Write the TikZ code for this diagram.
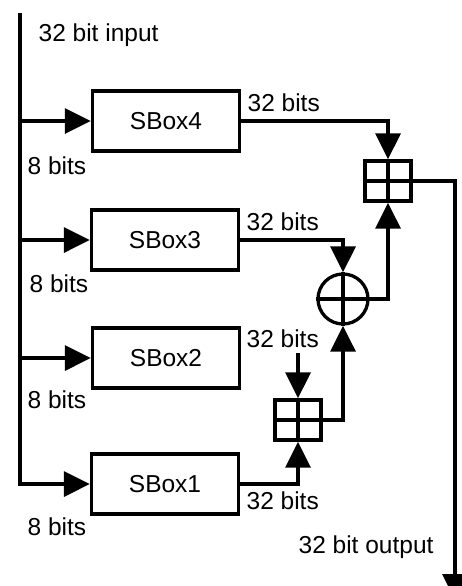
\documentclass[tikz,border=0pt]{standalone}
\usepackage{fontspec}
\setmainfont{Liberation Sans}
\usetikzlibrary{arrows.meta}
\begin{document}
\begin{tikzpicture}[x=1pt,y=-1pt,
  line width=3.3pt,
  sbox/.style={draw, minimum width=147pt, minimum height=60pt, inner sep=0pt, font=\fontsize{24.5}{28}\selectfont},
  lbl/.style={anchor=west, inner sep=0pt, font=\fontsize{24.5}{28}\selectfont},
  addbox/.style={draw, minimum width=46pt, minimum height=40pt, inner sep=0pt},
  xorc/.style={draw, circle, minimum size=50pt, inner sep=0pt},
  arr/.style={-{Triangle[length=26pt,width=25pt]}},
]
\useasboundingbox (0,0) rectangle (462,586);
% boxes
\node[sbox] (s4) at (166,121) {SBox4};
\node[sbox] (s3) at (165,240) {SBox3};
\node[sbox] (s2) at (166,358) {SBox2};
\node[sbox] (s1) at (165,484) {SBox1};
% adders
\node[addbox] (a1) at (388,181) {};
\node[xorc] (xr) at (343,299) {};
\node[addbox] (a2) at (298,420) {};
\draw (a1.north) -- (a1.south) (a1.west) -- (a1.east);
\draw (a2.north) -- (a2.south) (a2.west) -- (a2.east);
\draw (xr.north) -- (xr.south) (xr.west) -- (xr.east);
% coordinates
\coordinate (top) at (20,13);
\coordinate (b4) at (20,121);
\coordinate (b3) at (20,240);
\coordinate (b2) at (20,358);
\coordinate (c2) at (298,353);
\coordinate (out) at (455,600);
% labels
\node[lbl] (lin) at (37,35) {32 bit input};
\node[lbl] (e4) at (26,166) {8 bits};
\node[lbl] (e3) at (28,284) {8 bits};
\node[lbl] (e2) at (26,400) {8 bits};
\node[lbl] (e1) at (26,527) {8 bits};
\node[lbl] (t4) at (246,103) {32 bits};
\node[lbl] (t3) at (245,222) {32 bits};
\node[lbl] (t2) at (245,339) {32 bits};
\node[lbl] (t1) at (245,501) {32 bits};
\node[lbl] (lout) at (297,547) {32 bit output};
% connectors
\draw[arr] (top) |- (s1.west);
\draw[arr] (b4) -- (s4.west);
\draw[arr] (b3) -- (s3.west);
\draw[arr] (b2) -- (s2.west);
\draw[arr] (s4.east) -| (a1.north);
\draw[arr] (s3.east) -| (xr.north);
\draw[arr] (xr.east) -| (a1.south);
\draw[arr] (c2) -- (a2.north);
\draw[arr] (s1.east) -| (a2.south);
\draw[arr] (a2.east) -| (xr.south);
\draw[arr] (a1.east) -| (out);
\end{tikzpicture}
\end{document}
